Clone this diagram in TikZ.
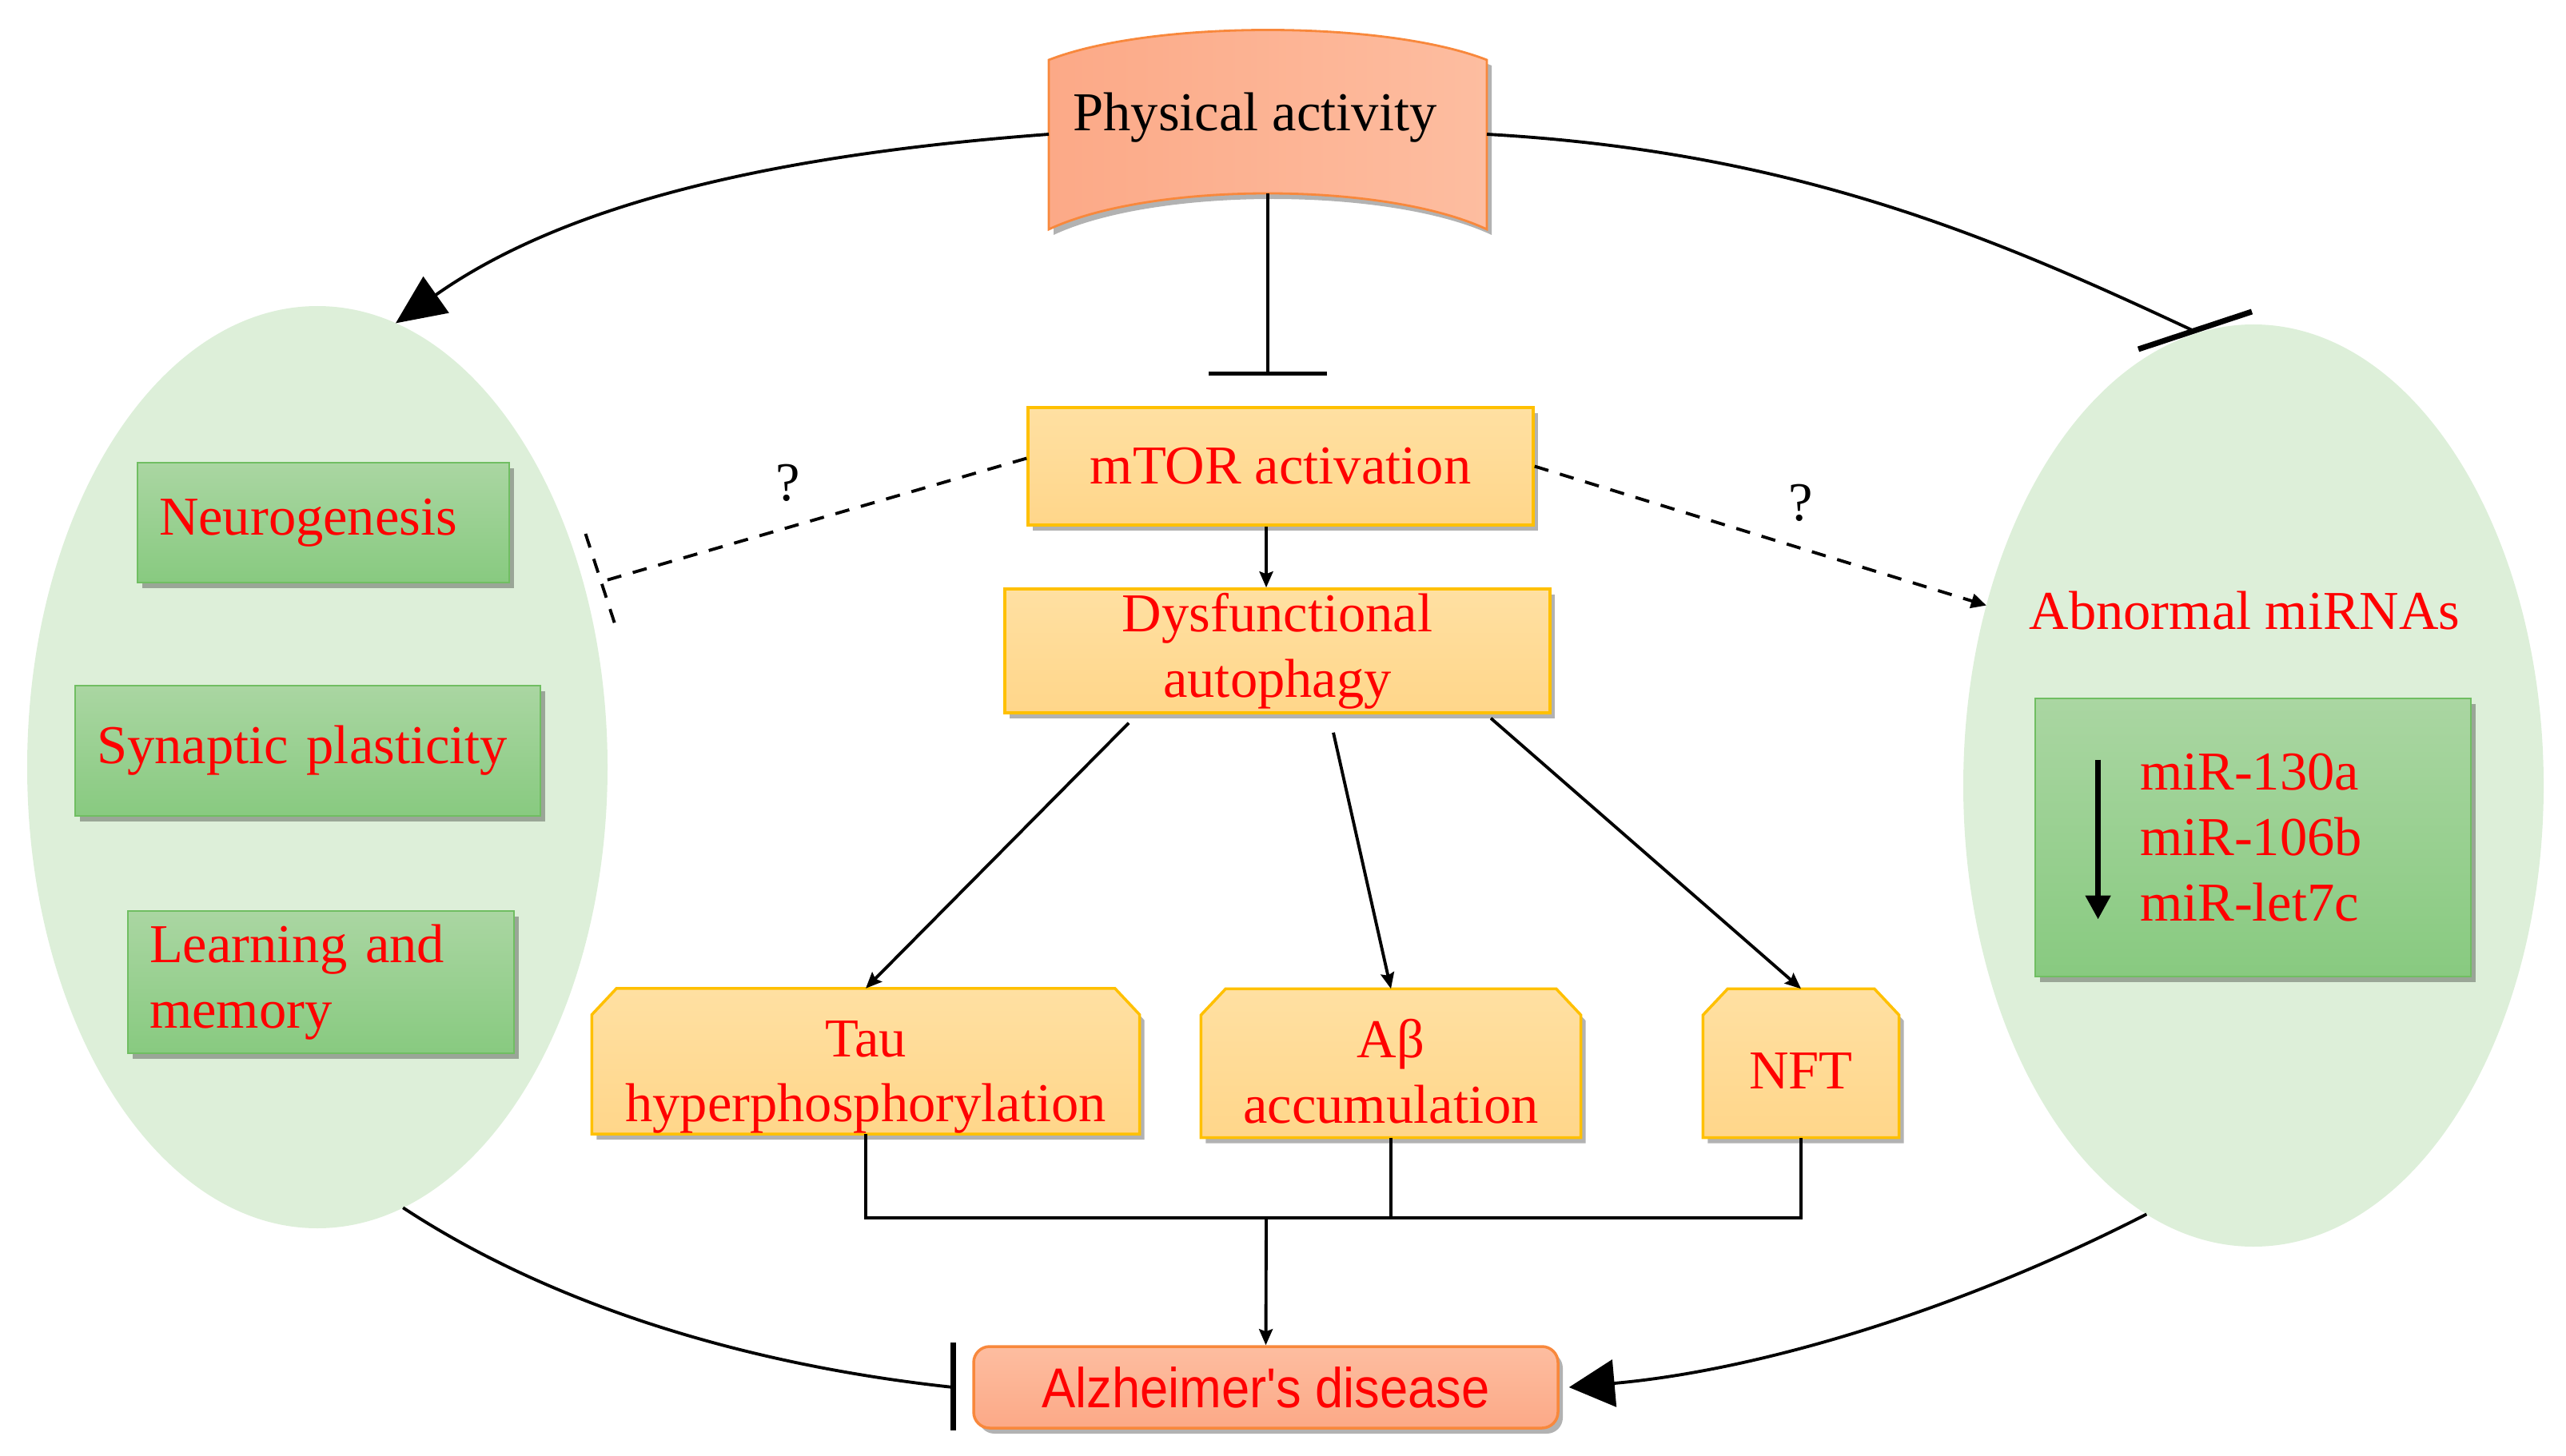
\documentclass[tikz,border=0pt]{standalone}
\usepackage{fontspec}
\setmainfont{Liberation Serif}
\newfontfamily\adfont[FakeStretch=0.9]{Liberation Sans}
\usetikzlibrary{arrows.meta,shapes.geometric,shadows,backgrounds}

\definecolor{ovalgreen}{HTML}{DDEFD9}
\definecolor{greentop}{HTML}{AAD6A2}
\definecolor{greenbot}{HTML}{88CA80}
\definecolor{greenline}{HTML}{70BE62}
\definecolor{yellowtop}{HTML}{FFE0A2}
\definecolor{yellowbot}{HTML}{FFD68A}
\definecolor{yellowline}{HTML}{FFC000}
\definecolor{salmontop}{HTML}{FDBDA0}
\definecolor{salmonbot}{HTML}{FCA987}
\definecolor{salmonline}{HTML}{F8883C}
\definecolor{txtred}{HTML}{FF0000}

\tikzset{
	bigfont/.style={font=\fontsize{19.5}{23.3}\selectfont},
	boxshadow/.style={drop shadow={shadow xshift=0.06cm, shadow yshift=-0.07cm, fill=black, opacity=0.3}},
	oval/.style={ellipse, fill=ovalgreen, minimum width=7.26cm, minimum height=11.54cm, inner sep=0pt, outer sep=0pt},
	greenbox/.style={rectangle, draw=greenline, line width=0.8pt, top color=greentop, bottom color=greenbot, text=txtred, bigfont, align=left, inner xsep=0.27cm, inner ysep=0pt, boxshadow},
	yellowbox/.style={rectangle, draw=yellowline, line width=1pt, top color=yellowtop, bottom color=yellowbot, text=txtred, bigfont, align=center, inner sep=0pt, boxshadow},
	cutbox/.style={rectangle, inner sep=0pt},
	cutlabel/.style={text=txtred, bigfont, align=center, inner sep=0pt},
	cutshape/.style={draw=yellowline, line width=1pt, top color=yellowtop, bottom color=yellowbot, boxshadow},
	curve/.style={line width=1.1pt},
	thinarrow/.style={line width=1.1pt, -{Stealth[length=0.2cm, width=0.17cm, inset=0.03cm]}},
	dashline/.style={line width=1.1pt, dash pattern=on 0.18cm off 0.15cm},
	qmark/.style={bigfont, inner sep=0pt}
}

\begin{document}
\begin{tikzpicture}
	
	\useasboundingbox (0,0) rectangle (32.10,-18.22);
	
	%% OVALS
	\node[oval] (leftoval) at (3.97,-9.60) {};
	\node[oval] (rightoval) at (28.19,-9.83) {};
	
	% Left oval boxes
	\node[greenbox, text width=4.11cm, minimum height=1.50cm] (neuro) at (4.045,-6.54) {Neurogenesis};
	\node[greenbox, text width=5.28cm, minimum height=1.63cm] (synap) at (3.85,-9.395) {Synaptic plasticity};
	\node[greenbox, text width=4.29cm, minimum height=1.78cm] (learn) at (4.015,-12.29) {Learning and\\memory};
	
	% Right oval
	\node[bigfont, text=txtred] (abnorm) at (28.08,-7.64) {Abnormal miRNAs};
	\node[greenbox, inner xsep=1.31cm, text width=2.83cm, minimum height=3.48cm] (mirbox) at (28.185,-10.48) {miR-130a\\miR-106b\\miR-let7c};
	\draw[line width=2.2pt, -{Triangle[length=0.3cm, width=0.3cm]}] ([xshift=0.80cm, yshift=-0.78cm]mirbox.north west) -- ([xshift=0.80cm, yshift=-2.78cm]mirbox.north west);
	
	%% PHYSICAL ACTIVITY
	\shade[left color=salmonbot, right color=salmontop, draw=salmonline, line width=0.8pt, boxshadow]
		(13.12,-0.75) .. controls (14.40,-0.25) and (17.32,-0.25) .. (18.60,-0.75)
		-- (18.60,-2.87) .. controls (17.32,-2.27) and (14.40,-2.27) .. (13.12,-2.87) -- cycle;
	\node[bigfont] (phys) at (15.70,-1.47) {Physical activity};
	\coordinate (physL) at (13.12,-1.68);
	\coordinate (physR) at (18.60,-1.68);
	\coordinate (physB) at (15.86,-2.42);
	
	%% CENTRE BOXES
	\node[yellowbox, minimum width=6.32cm, minimum height=1.47cm] (mtor) at (16.02,-5.835) {mTOR activation};
	\node[yellowbox, minimum width=6.82cm, minimum height=1.55cm] (dysf) at (15.98,-8.145) {Dysfunctional\\autophagy};
	\node[cutbox, minimum width=6.84cm, minimum height=1.81cm, label={[cutlabel, name=tautext, yshift=-0.2cm]center:{Tau\\hyperphosphorylation}}] (tau) at (10.83,-13.28) {};
	\node[cutbox, minimum width=4.74cm, minimum height=1.85cm, label={[cutlabel, name=abetatext, yshift=-0.1cm]center:{Aβ\\accumulation}}] (abeta) at (17.40,-13.305) {};
	\node[cutbox, minimum width=2.44cm, minimum height=1.85cm, label={[cutlabel, name=nfttext, yshift=-0.1cm]center:{NFT}}] (nft) at (22.53,-13.305) {};
	
	% Cut corner boxes behind the text
	\begin{scope}[on background layer]
		\foreach \n in {tau, abeta, nft}
		{
			\shade[cutshape] (\n.south west) -- ([yshift=-0.33cm]\n.north west) -- ([xshift=0.31cm]\n.north west)
				-- ([xshift=-0.31cm]\n.north east) -- ([yshift=-0.33cm]\n.north east) -- (\n.south east) -- cycle;
		}
	\end{scope}
	
	% Alzheimer
	\node[rectangle, rounded corners=0.2cm, draw=salmonline, line width=1pt, top color=salmontop, bottom color=salmonbot, text=txtred, font=\adfont\fontsize{20}{24}\selectfont, minimum width=7.31cm, minimum height=1.02cm, boxshadow] (ad) at (15.835,-17.36) {Alzheimer's disease};
	
	%% CONNECTORS
	% Activity inhibits mTOR
	\coordinate (mtorbar) at ([yshift=0.38cm]mtor.north -| physB);
	\draw[line width=1.4pt, -{Bar[width=1.48cm, line width=1.6pt]}] (physB) -- (mtorbar);
	
	% mTOR down the chain
	\draw[thinarrow] ([xshift=-0.18cm]mtor.south) -- ([xshift=-0.18cm]mtor.south |- dysf.north);
	\draw[thinarrow] ([xshift=-1.86cm, yshift=-0.11cm]dysf.south) -- (tau.north);
	\draw[thinarrow] ([xshift=0.70cm, yshift=-0.23cm]dysf.south) -- (abeta.north);
	\draw[thinarrow] ([xshift=2.67cm, yshift=-0.05cm]dysf.south) -- (nft.north);
	
	% Join to Alzheimer
	\coordinate (junc) at (15.84,-15.24);
	\draw[line width=1pt] (tau.south) |- (junc) -| (nft.south);
	\draw[line width=1pt] (abeta.south) -- (abeta.south |- junc);
	\draw[thinarrow] (junc) -- (ad.north);
	
	% Dashed links
	\coordinate (neurbar) at (7.52,-7.28);
	\draw[dashline] ([yshift=0.10cm]mtor.west) -- node[qmark, pos=0.56, yshift=0.56cm] (q1) {?} (neurbar);
	\draw[dashline] ([shift={(-0.195,0.60)}]neurbar) -- ([shift={(0.195,-0.60)}]neurbar);
	\draw[dashline, -{Triangle[length=0.19cm, width=0.18cm]}] (mtor.east) -- node[qmark, pos=0.59, yshift=0.57cm] (q2) {?} (rightoval.146);
	
	% Big curves
	\draw[curve, -{Triangle[length=0.62cm, width=0.55cm]}] (physL) .. controls (9.50,-1.95) and (7.00,-2.60) .. (leftoval.80);
	
	\coordinate (rbar) at (27.42,-4.13);
	\draw[curve] (physR) .. controls (22.50,-1.90) and (25.00,-3.00) .. (rbar);
	\draw[line width=2pt] ([shift={(-0.67,-0.24)}]rbar) -- ([shift={(0.75,0.23)}]rbar);
	
	\coordinate (adbar) at ([xshift=-0.24cm]ad.west);
	\draw[curve] (leftoval.-79) .. controls (7.00,-16.40) and (9.50,-17.10) .. (adbar);
	\draw[line width=2pt] ([yshift=0.56cm]adbar) -- ([yshift=-0.54cm]adbar);
	
	\draw[curve, -{Triangle[length=0.57cm, width=0.59cm]}] (rightoval.-104) .. controls (24.50,-16.40) and (22.00,-17.15) .. ([xshift=0.12cm]ad.east);
	
\end{tikzpicture}
\end{document}
